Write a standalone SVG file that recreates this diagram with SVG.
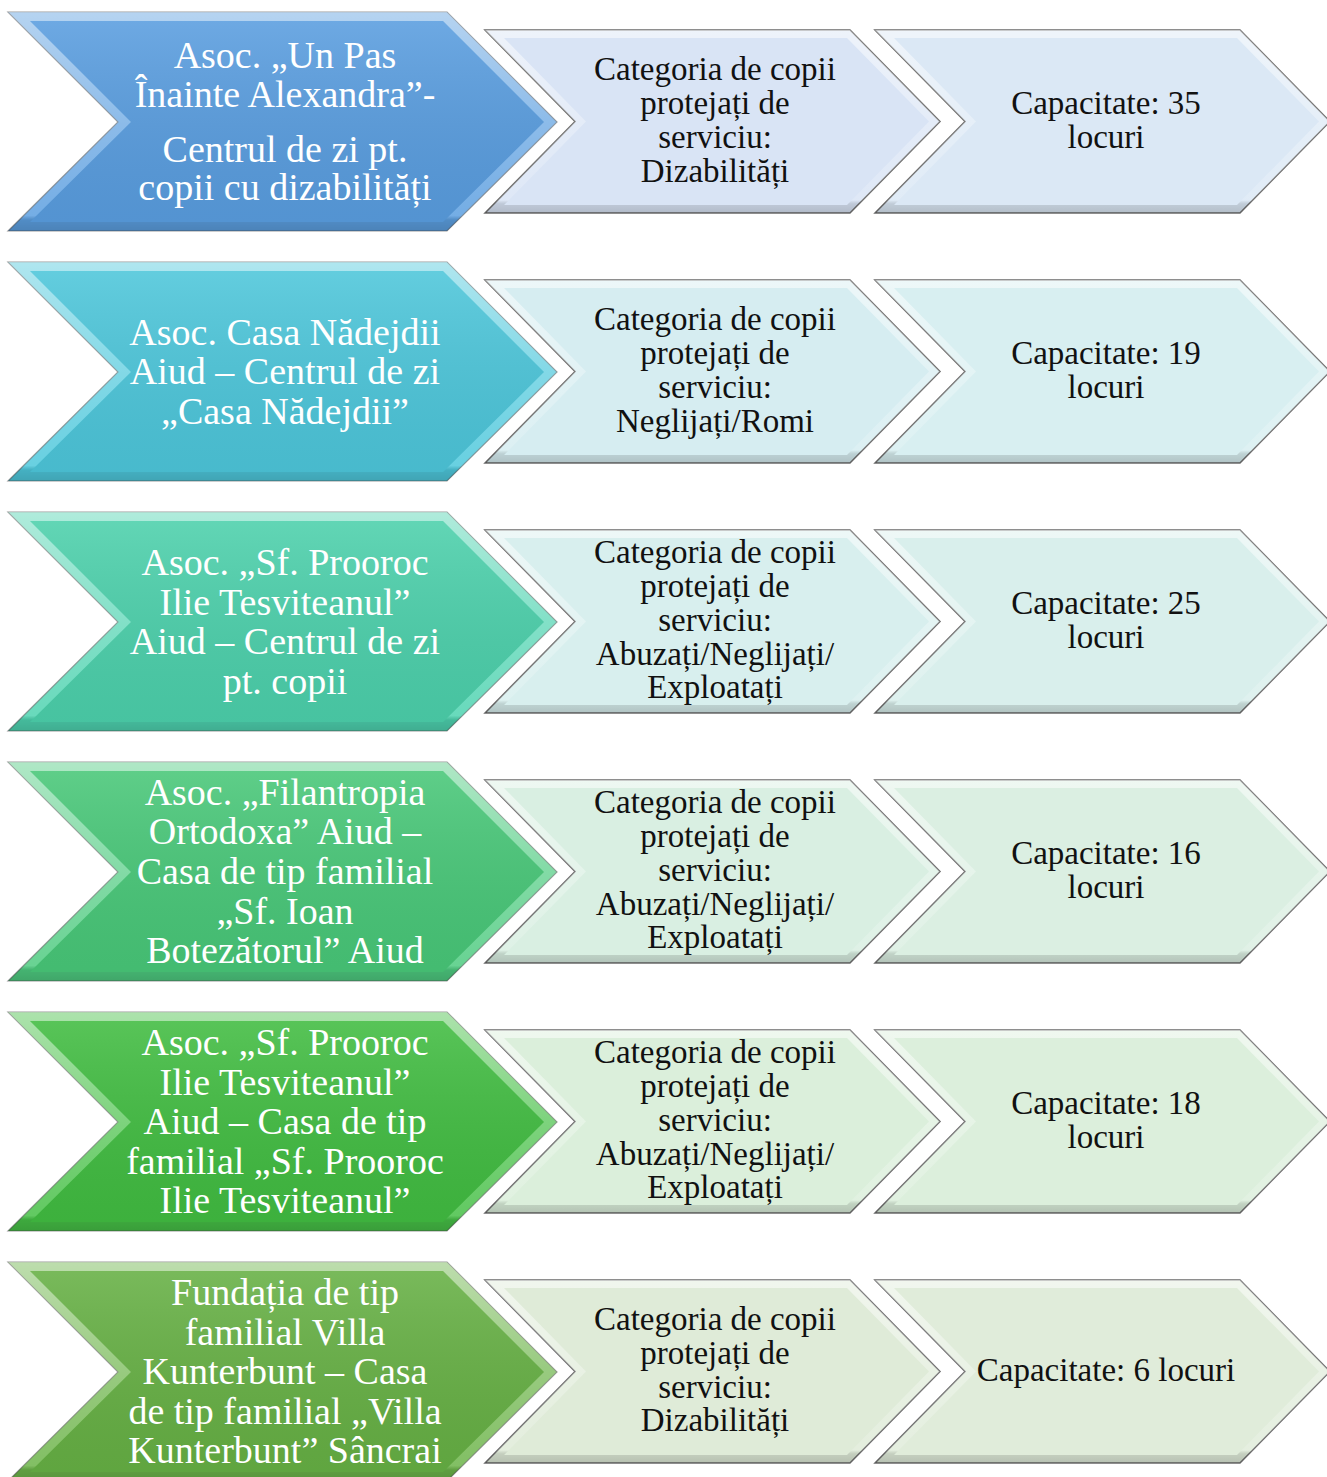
<svg xmlns="http://www.w3.org/2000/svg" xmlns:xlink="http://www.w3.org/1999/xlink" width="1327" height="1477" viewBox="0 0 1327 1477">
<style>
.w{font-family:"Liberation Serif","DejaVu Serif",serif;font-size:38px;fill:#ffffff;text-anchor:middle}
.b{font-family:"Liberation Serif","DejaVu Serif",serif;font-size:33px;fill:#111111;text-anchor:middle}
.edge{stroke:#6a6a6a;stroke-width:1.5}
.bedge{stroke:#4a4a4a;stroke-opacity:0.55;stroke-width:1.2}
</style>
<defs>
<linearGradient id="bev" x1="0" y1="0" x2="0" y2="1">
<stop offset="0" stop-color="#ffffff" stop-opacity="0.55"/>
<stop offset="0.5" stop-color="#ffffff" stop-opacity="0.3"/>
<stop offset="0.93" stop-color="#ffffff" stop-opacity="0.15"/>
<stop offset="0.95" stop-color="#000000" stop-opacity="0.12"/>
<stop offset="1" stop-color="#000000" stop-opacity="0.18"/>
</linearGradient>
<linearGradient id="shade" x1="0" y1="0" x2="0" y2="1">
<stop offset="0" stop-color="#ffffff" stop-opacity="0.12"/>
<stop offset="1" stop-color="#000000" stop-opacity="0.06"/>
</linearGradient>
<polygon id="bigO" points="8,0 447,0 557,110 447,219 8,219 118,110"/>
<polygon id="bigI" points="30,9 443,9 544,110 443,210 30,210 131,110"/>
<polygon id="smO" points="485,0 850,0 940,91.5 850,183 485,183 575,91.5"/>
<polygon id="smI" points="504,8 847,8 929,91.5 847,175 504,175 586,91.5"/>
</defs>

<g id="connectors"></g>

<!-- Row 1 -->
<g id="row1-org" transform="translate(0,12)">
<use href="#bigO" fill="#5c9fe0" class="bedge"/>
<use href="#bigO" fill="url(#bev)"/>
<use href="#bigI" fill="#599ddf"/>
<use href="#bigI" fill="url(#shade)"/>
</g>
<g id="row1-org-text"><text class="w" x="285" y="68">Asoc. „Un Pas</text><text class="w" x="285" y="107">Înainte Alexandra”-</text><text class="w" x="285" y="162">Centrul de zi pt.</text><text class="w" x="285" y="200">copii cu dizabilități</text></g>
<g id="row1-cat" transform="translate(0,30)">
<use href="#smO" fill="#d9e4f5" class="edge"/>
<use href="#smO" fill="url(#bev)"/>
<use href="#smI" fill="#d9e4f5"/>
</g>
<g id="row1-cat-text"><text class="b" x="715" y="80">Categoria de copii</text><text class="b" x="715" y="114">protejați de</text><text class="b" x="715" y="148">serviciu:</text><text class="b" x="715" y="182">Dizabilități</text></g>
<g id="row1-cap" transform="translate(390,30)">
<use href="#smO" fill="#dbe8f5" class="edge"/>
<use href="#smO" fill="url(#bev)"/>
<use href="#smI" fill="#dbe8f5"/>
</g>
<g id="row1-cap-text"><text class="b" x="1106" y="114">Capacitate: 35</text><text class="b" x="1106" y="148">locuri</text></g>

<!-- Row 2 -->
<g id="row2-org" transform="translate(0,262)">
<use href="#bigO" fill="#4ec8dc" class="bedge"/>
<use href="#bigO" fill="url(#bev)"/>
<use href="#bigI" fill="#4dc6da"/>
<use href="#bigI" fill="url(#shade)"/>
</g>
<g id="row2-org-text"><text class="w" x="285" y="345">Asoc. Casa Nădejdii</text><text class="w" x="285" y="384">Aiud – Centrul de zi</text><text class="w" x="285" y="424">„Casa Nădejdii”</text></g>
<g id="row2-cat" transform="translate(0,280)">
<use href="#smO" fill="#d6edf1" class="edge"/>
<use href="#smO" fill="url(#bev)"/>
<use href="#smI" fill="#d6edf1"/>
</g>
<g id="row2-cat-text"><text class="b" x="715" y="330">Categoria de copii</text><text class="b" x="715" y="364">protejați de</text><text class="b" x="715" y="398">serviciu:</text><text class="b" x="715" y="432">Neglijați/Romi</text></g>
<g id="row2-cap" transform="translate(390,280)">
<use href="#smO" fill="#d8eff1" class="edge"/>
<use href="#smO" fill="url(#bev)"/>
<use href="#smI" fill="#d8eff1"/>
</g>
<g id="row2-cap-text"><text class="b" x="1106" y="364">Capacitate: 19</text><text class="b" x="1106" y="398">locuri</text></g>

<!-- Row 3 -->
<g id="row3-org" transform="translate(0,512)">
<use href="#bigO" fill="#4ed3b0" class="bedge"/>
<use href="#bigO" fill="url(#bev)"/>
<use href="#bigI" fill="#4cd0ab"/>
<use href="#bigI" fill="url(#shade)"/>
</g>
<g id="row3-org-text"><text class="w" x="285" y="575">Asoc. „Sf. Prooroc</text><text class="w" x="285" y="615">Ilie Tesviteanul”</text><text class="w" x="285" y="654">Aiud – Centrul de zi</text><text class="w" x="285" y="694">pt. copii</text></g>
<g id="row3-cat" transform="translate(0,530)">
<use href="#smO" fill="#d8efee" class="edge"/>
<use href="#smO" fill="url(#bev)"/>
<use href="#smI" fill="#d8efee"/>
</g>
<g id="row3-cat-text"><text class="b" x="715" y="563">Categoria de copii</text><text class="b" x="715" y="597">protejați de</text><text class="b" x="715" y="631">serviciu:</text><text class="b" x="715" y="665">Abuzați/Neglijați/</text><text class="b" x="715" y="698">Exploatați</text></g>
<g id="row3-cap" transform="translate(390,530)">
<use href="#smO" fill="#d9efec" class="edge"/>
<use href="#smO" fill="url(#bev)"/>
<use href="#smI" fill="#d9efec"/>
</g>
<g id="row3-cap-text"><text class="b" x="1106" y="614">Capacitate: 25</text><text class="b" x="1106" y="648">locuri</text></g>

<!-- Row 4 -->
<g id="row4-org" transform="translate(0,762)">
<use href="#bigO" fill="#4ecb80" class="bedge"/>
<use href="#bigO" fill="url(#bev)"/>
<use href="#bigI" fill="#48c778"/>
<use href="#bigI" fill="url(#shade)"/>
</g>
<g id="row4-org-text"><text class="w" x="285" y="805">Asoc. „Filantropia</text><text class="w" x="285" y="844">Ortodoxa” Aiud –</text><text class="w" x="285" y="884">Casa de tip familial</text><text class="w" x="285" y="924">„Sf. Ioan</text><text class="w" x="285" y="963">Botezătorul” Aiud</text></g>
<g id="row4-cat" transform="translate(0,780)">
<use href="#smO" fill="#d9efe2" class="edge"/>
<use href="#smO" fill="url(#bev)"/>
<use href="#smI" fill="#d9efe2"/>
</g>
<g id="row4-cat-text"><text class="b" x="715" y="813">Categoria de copii</text><text class="b" x="715" y="847">protejați de</text><text class="b" x="715" y="881">serviciu:</text><text class="b" x="715" y="915">Abuzați/Neglijați/</text><text class="b" x="715" y="948">Exploatați</text></g>
<g id="row4-cap" transform="translate(390,780)">
<use href="#smO" fill="#dbefe2" class="edge"/>
<use href="#smO" fill="url(#bev)"/>
<use href="#smI" fill="#dbefe2"/>
</g>
<g id="row4-cap-text"><text class="b" x="1106" y="864">Capacitate: 16</text><text class="b" x="1106" y="898">locuri</text></g>

<!-- Row 5 -->
<g id="row5-org" transform="translate(0,1012)">
<use href="#bigO" fill="#46c046" class="bedge"/>
<use href="#bigO" fill="url(#bev)"/>
<use href="#bigI" fill="#41bc41"/>
<use href="#bigI" fill="url(#shade)"/>
</g>
<g id="row5-org-text"><text class="w" x="285" y="1055">Asoc. „Sf. Prooroc</text><text class="w" x="285" y="1095">Ilie Tesviteanul”</text><text class="w" x="285" y="1134">Aiud – Casa de tip</text><text class="w" x="285" y="1174">familial „Sf. Prooroc</text><text class="w" x="285" y="1213">Ilie Tesviteanul”</text></g>
<g id="row5-cat" transform="translate(0,1030)">
<use href="#smO" fill="#dbefdb" class="edge"/>
<use href="#smO" fill="url(#bev)"/>
<use href="#smI" fill="#dbefdb"/>
</g>
<g id="row5-cat-text"><text class="b" x="715" y="1063">Categoria de copii</text><text class="b" x="715" y="1097">protejați de</text><text class="b" x="715" y="1131">serviciu:</text><text class="b" x="715" y="1165">Abuzați/Neglijați/</text><text class="b" x="715" y="1198">Exploatați</text></g>
<g id="row5-cap" transform="translate(390,1030)">
<use href="#smO" fill="#dcefdc" class="edge"/>
<use href="#smO" fill="url(#bev)"/>
<use href="#smI" fill="#dcefdc"/>
</g>
<g id="row5-cap-text"><text class="b" x="1106" y="1114">Capacitate: 18</text><text class="b" x="1106" y="1148">locuri</text></g>

<!-- Row 6 -->
<g id="row6-org" transform="translate(0,1262)">
<use href="#bigO" fill="#6cb449" class="bedge"/>
<use href="#bigO" fill="url(#bev)"/>
<use href="#bigI" fill="#66b044"/>
<use href="#bigI" fill="url(#shade)"/>
</g>
<g id="row6-org-text"><text class="w" x="285" y="1305">Fundația de tip</text><text class="w" x="285" y="1345">familial Villa</text><text class="w" x="285" y="1384">Kunterbunt – Casa</text><text class="w" x="285" y="1424">de tip familial „Villa</text><text class="w" x="285" y="1463">Kunterbunt” Sâncrai</text></g>
<g id="row6-cat" transform="translate(0,1280)">
<use href="#smO" fill="#dfebd8" class="edge"/>
<use href="#smO" fill="url(#bev)"/>
<use href="#smI" fill="#dfebd8"/>
</g>
<g id="row6-cat-text"><text class="b" x="715" y="1330">Categoria de copii</text><text class="b" x="715" y="1364">protejați de</text><text class="b" x="715" y="1398">serviciu:</text><text class="b" x="715" y="1431">Dizabilități</text></g>
<g id="row6-cap" transform="translate(390,1280)">
<use href="#smO" fill="#e0ecda" class="edge"/>
<use href="#smO" fill="url(#bev)"/>
<use href="#smI" fill="#e0ecda"/>
</g>
<g id="row6-cap-text"><text class="b" x="1106" y="1381">Capacitate: 6 locuri</text></g>
</svg>
